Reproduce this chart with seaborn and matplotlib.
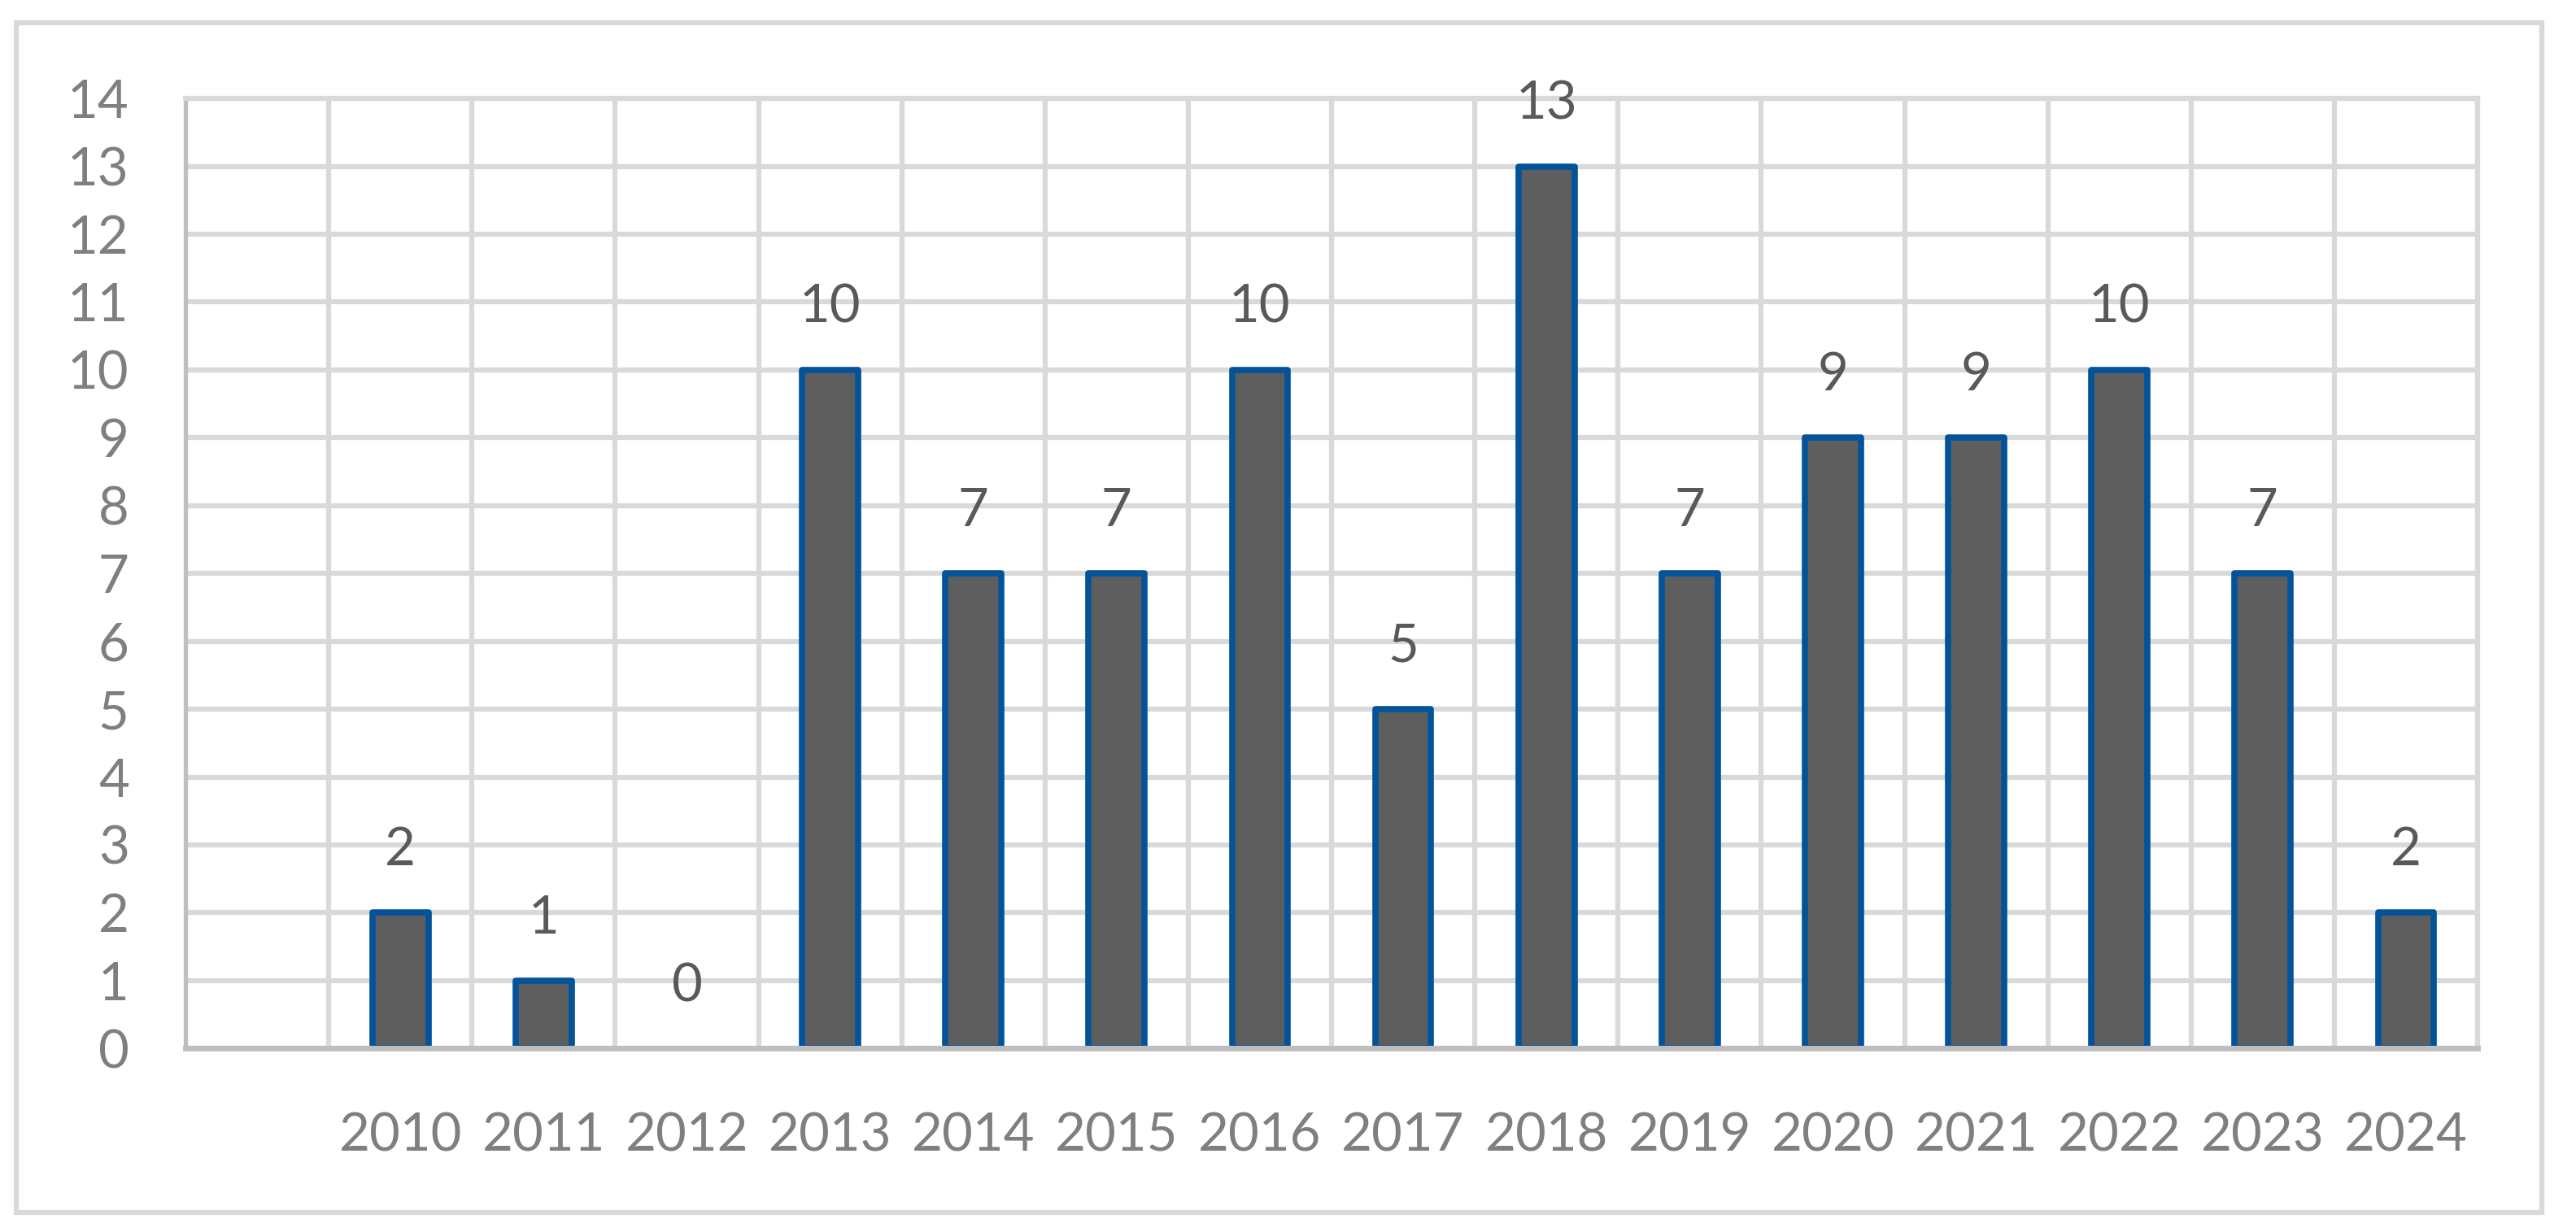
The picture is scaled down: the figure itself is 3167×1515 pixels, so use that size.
import matplotlib
matplotlib.use("Agg")
import matplotlib.pyplot as plt
from matplotlib.patches import Rectangle
import numpy as np
import seaborn as sns

sns.set_theme(style="white")
plt.rcParams['font.family'] = ['Lato', 'DejaVu Sans']

# data
years = ['2010', '2011', '2012', '2013', '2014', '2015', '2016', '2017',
         '2018', '2019', '2020', '2021', '2022', '2023', '2024']
counts = [2, 1, 0, 10, 7, 7, 10, 5, 13, 7, 9, 9, 10, 7, 2]
y_ticks = list(range(0, 15))

FILL = '#5E5E5E'
EDGE = '#03539B'
GRID = '#D9D9D9'
AXIS = '#BFBFBF'
TICK_COL = '#7F7F7F'
LABEL_COL = '#595959'

fig = plt.figure(figsize=(31.67, 15.15), dpi=100)
fig.patch.set_facecolor('white')
ax = fig.add_axes([0.072, 0.149, 0.8898, 0.771])

sns.barplot(x=years, y=counts, color=FILL, saturation=1, width=0.39,
            edgecolor=EDGE, linewidth=5.5, ax=ax)

for patch, v in zip(ax.patches, counts):
    patch.set_joinstyle('round')
    if v == 0:
        patch.set_linewidth(0)

# empty category slot before 2010
ax.set_xlim(-1.5, len(years) - 0.5)
ax.set_ylim(0, 14)
ax.set_yticks(y_ticks)
ax.set_xticks(range(len(years)))
ax.set_xticklabels(years)
ax.set_xticks(np.arange(-1.5, len(years), 1), minor=True)

ax.set_axisbelow(True)
ax.grid(False)
ax.yaxis.grid(True, which='major', color=GRID, linewidth=4.5)
ax.xaxis.grid(True, which='minor', color=GRID, linewidth=4.5)

ax.tick_params(axis='x', which='both', length=0, pad=56, labelsize=47,
               labelcolor=TICK_COL)
ax.tick_params(axis='y', length=0, pad=50, labelsize=47, labelcolor=TICK_COL)
ax.set_xlabel('')
ax.set_ylabel('')

for side in ['top', 'right']:
    ax.spines[side].set_color(GRID)
    ax.spines[side].set_linewidth(4.5)
ax.spines['left'].set_color(AXIS)
ax.spines['left'].set_linewidth(3.8)
ax.spines['bottom'].set_color(AXIS)
ax.spines['bottom'].set_linewidth(5)
ax.spines['bottom'].set_zorder(5)

ax.bar_label(ax.containers[0], labels=[str(v) for v in counts], padding=34,
             fontsize=47, color=LABEL_COL)

# chart-area frame
fig.patches.append(Rectangle((0.0063, 0.0158), 0.9804, 0.9657,
                             transform=fig.transFigure, fill=False,
                             edgecolor=GRID, linewidth=4.5))

fig.savefig('out.png', dpi=100)
